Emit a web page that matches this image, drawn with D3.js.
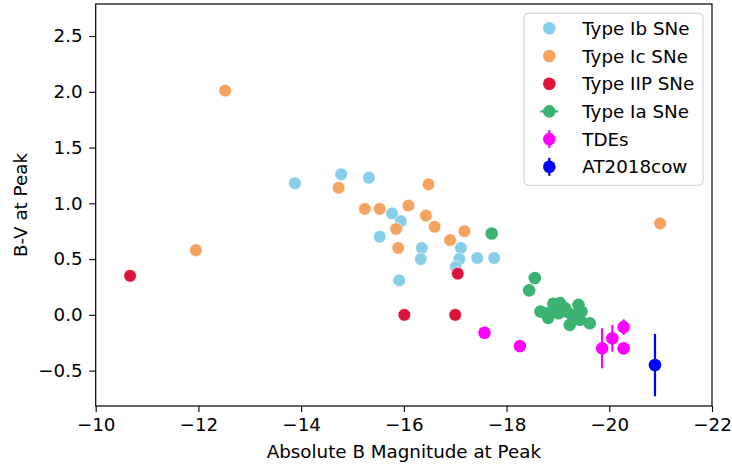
<!DOCTYPE html>
<html><head><meta charset="utf-8">
<script src="https://cdn.jsdelivr.net/npm/d3@7"></script>
<style>body{margin:0;background:#fff}svg{display:block;font-family:"DejaVu Sans",sans-serif}</style>
</head><body><svg id="c" width="732" height="467"></svg>
<script>
// ---- data ----
const ibX = [-13.88,-14.78,-15.32,-15.77,-15.94,-15.53,-16.35,-16.33,-17.11,-17.08,-17.01,-17.43,-17.76,-15.91];
const ibY = [1.18,1.26,1.23,0.91,0.84,0.70,0.60,0.50,0.60,0.50,0.43,0.51,0.51,0.31];
const icX = [-12.52,-11.95,-14.73,-16.48,-15.24,-15.53,-16.09,-15.85,-16.43,-16.60,-15.89,-16.90,-17.18,-20.99];
const icY = [2.01,0.58,1.14,1.17,0.95,0.95,0.98,0.77,0.89,0.79,0.60,0.67,0.75,0.82];
const iipX = [-10.67,-17.05,-16.01,-17.00];
const iipY = [0.35,0.37,0.00,0.00];
const iaX = [-17.71,-18.55,-18.44,-18.66,-18.77,-18.81,-18.91,-19.04,-19.01,-19.14,-19.17,-19.23,-19.27,-19.40,-19.46,-19.43,-19.62,-18.98,-19.35];
const iaY = [0.73,0.33,0.22,0.03,0.015,-0.027,0.10,0.105,0.015,0.06,0.03,-0.09,0.0,0.09,0.03,-0.045,-0.075,0.06,-0.02];
const tdeX = [-17.57,-18.26,-19.86,-20.06,-20.28,-20.28];
const tdeY = [-0.16,-0.28,-0.30,-0.21,-0.11,-0.30];
const tdeErr = [0.05,0.0,0.18,0.12,0.07,0.03];
const cowX = [-20.89];
const cowY = [-0.45];
const cowErr = [0.28];
const xTicks = [-10,-12,-14,-16,-18,-20,-22];
const yTicks = [-0.5,0.0,0.5,1.0,1.5,2.0,2.5];
const legendLabels = ["Type Ib SNe","Type Ic SNe","Type IIP SNe","Type Ia SNe","TDEs","AT2018cow"];
const colors = ["#87CEEB","#F4A460","#DC143C","#3CB371","#FF00FF","#0000FF"];

// ---- layout ----
const L=95.7, R=712, T=4, B=406;
const svg = d3.select("#c");
const x = d3.scaleLinear().domain([-10,-22]).range([L,R]);
const y = d3.scaleLinear().domain([-0.817,2.787]).range([B,T]);
const fs = 18.3, rad = 6.3;

const zip = (a,b,e) => a.map((v,i)=>({x:v,y:b[i],e:e?e[i]:0}));

function scatter(data,color,edge){
  svg.append("g").selectAll("circle").data(data).join("circle")
    .attr("cx",d=>x(d.x)).attr("cy",d=>y(d.y)).attr("r",rad)
    .attr("fill",color)
    .attr("stroke",edge?"#fff":"none").attr("stroke-width",edge?0.6:0);
}
function errbars(data,color){
  const g = svg.append("g");
  g.selectAll("line").data(data.filter(d=>d.e>0)).join("line")
    .attr("x1",d=>x(d.x)).attr("x2",d=>x(d.x))
    .attr("y1",d=>y(d.y-d.e)).attr("y2",d=>y(d.y+d.e))
    .attr("stroke",color).attr("stroke-width",2.2);
  g.selectAll("circle").data(data).join("circle")
    .attr("cx",d=>x(d.x)).attr("cy",d=>y(d.y)).attr("r",rad).attr("fill",color);
}
scatter(zip(ibX,ibY),colors[0],true);
scatter(zip(icX,icY),colors[1],true);
scatter(zip(iipX,iipY),colors[2],true);
errbars(zip(iaX,iaY),colors[3]);
errbars(zip(tdeX,tdeY,tdeErr),colors[4]);
errbars(zip(cowX,cowY,cowErr),colors[5]);

// ---- axes ----
const fmtX = d=>String(d).replace("-","\u2212");
const fmtY = d=>d3.format(".1f")(d).replace("-","\u2212");
const xa = svg.append("g").attr("transform",`translate(0,${B})`)
  .call(d3.axisBottom(x).tickValues(xTicks).tickFormat(fmtX).tickSize(6).tickPadding(6).tickSizeOuter(0));
const ya = svg.append("g").attr("transform",`translate(${L},0)`)
  .call(d3.axisLeft(y).tickValues(yTicks).tickFormat(fmtY).tickSize(6.5).tickPadding(6.5).tickSizeOuter(0));
[xa,ya].forEach(a=>{a.select(".domain").remove();a.selectAll("line").attr("stroke","#000").attr("stroke-width",1.1);
  a.selectAll("text").attr("font-size",fs).attr("font-family","DejaVu Sans").attr("fill","#000");});
svg.append("rect").attr("x",L).attr("y",T).attr("width",R-L).attr("height",B-T)
  .attr("fill","none").attr("stroke","#000").attr("stroke-width",1.2);

svg.append("text").attr("x",(L+R)/2).attr("y",458).attr("text-anchor","middle")
  .attr("font-size",fs).text("Absolute B Magnitude at Peak");
svg.append("text").attr("transform",`translate(27,${(T+B)/2}) rotate(-90)`).attr("text-anchor","middle")
  .attr("font-size",fs).text("B-V at Peak");

// ---- legend ----
const lg = svg.append("g");
lg.append("rect").attr("x",524).attr("y",13.3).attr("width",179).attr("height",172).attr("rx",4)
  .attr("fill","#fff").attr("fill-opacity",0.8).attr("stroke","#ccc").attr("stroke-width",1);
legendLabels.forEach((lab,i)=>{
  const cy = 28.3 + i*27.7, cx = 549.3;
  if(i===3) lg.append("line").attr("x1",cx-9).attr("x2",cx+9).attr("y1",cy).attr("y2",cy).attr("stroke",colors[i]).attr("stroke-width",2.2);
  if(i>=4) lg.append("line").attr("x1",cx).attr("x2",cx).attr("y1",cy-9).attr("y2",cy+9).attr("stroke",colors[i]).attr("stroke-width",2.2);
  lg.append("circle").attr("cx",cx).attr("cy",cy).attr("r",rad).attr("fill",colors[i]);
  lg.append("text").attr("x",582.3).attr("y",cy).attr("dy","0.36em").attr("font-size",fs).text(lab);
});
</script></body></html>
